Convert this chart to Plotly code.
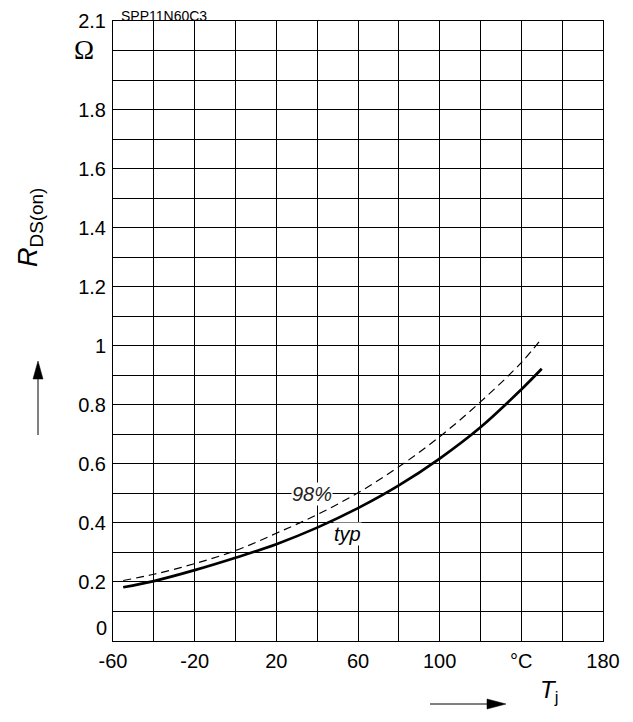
import plotly.graph_objects as go

# Data
tj = [-55, -40, -20, 0, 20, 40, 60, 80, 100, 120, 140, 150]
r_typ = [0.182, 0.203, 0.240, 0.282, 0.328, 0.384, 0.450, 0.527, 0.618, 0.724, 0.852, 0.922]
r_98 = [0.205, 0.226, 0.262, 0.306, 0.365, 0.428, 0.502, 0.590, 0.692, 0.810, 0.943, 1.025]

x_tickvals = [-60, -40, -20, 0, 20, 40, 60, 80, 100, 120, 140, 160, 180]
x_ticktext = ["-60", "", "-20", "", "20", "", "60", "", "100", "", "°C", "", "180"]
y_tickvals = [round(i * 0.1, 1) for i in range(0, 22)]
y_label_map = {0.2: "0.2", 0.4: "0.4", 0.6: "0.6", 0.8: "0.8", 1.0: "1", 1.2: "1.2",
               1.4: "1.4", 1.6: "1.6", 1.8: "1.8", 2.1: "2.1"}
y_ticktext = [y_label_map.get(v, "") for v in y_tickvals]

FONT = "Liberation Sans, Arial, sans-serif"

# page is rendered with an 8px body margin: plot area in page px = x 113..603, y 21..641
def px(xp):
    return (xp - 113) / 490.0

def py(yp):
    return (641 - yp) / 620.0

fig = go.Figure()
fig.add_trace(go.Scatter(x=tj, y=r_98, mode="lines",
                         line=dict(color="black", width=1.2, dash="8px,5px", shape="spline"),
                         showlegend=False, hoverinfo="skip"))
fig.add_trace(go.Scatter(x=tj, y=r_typ, mode="lines",
                         line=dict(color="black", width=2.7, shape="spline"),
                         showlegend=False, hoverinfo="skip"))

fig.update_layout(
    width=614, height=702,
    margin=dict(l=105, r=19, t=13, b=69, autoexpand=False),
    paper_bgcolor="white", plot_bgcolor="white",
    font=dict(family=FONT, size=20, color="black"),
    xaxis=dict(range=[-60, 180], tickvals=x_tickvals, ticktext=x_ticktext, showgrid=True,
               gridcolor="black", gridwidth=1, showline=True, linecolor="black", linewidth=1,
               mirror=True, ticks="", zeroline=False, ticklabelstandoff=2, automargin=False,
               tickfont=dict(size=20, family=FONT)),
    yaxis=dict(range=[0, 2.1], tickvals=y_tickvals, ticktext=y_ticktext, showgrid=True,
               gridcolor="black", gridwidth=1, showline=True, linecolor="black", linewidth=1,
               mirror=True, ticks="", zeroline=False, ticklabelstandoff=2, automargin=False,
               tickfont=dict(size=20, family=FONT)),
)

annotations = [
    dict(text="SPP11N60C3", xref="paper", yref="paper", x=px(119), y=py(16),
         xanchor="left", yanchor="middle", showarrow=False, font=dict(size=14, family=FONT)),
    dict(text="Ω", xref="paper", yref="paper", x=px(84), y=py(50),
         xanchor="center", yanchor="middle", showarrow=False,
         font=dict(size=27, family="Liberation Serif, Times New Roman, serif")),
    dict(text="0", xref="paper", yref="paper", x=px(109), y=py(628),
         xanchor="right", yanchor="middle", showarrow=False, font=dict(size=20, family=FONT)),
    dict(text="<i>R</i><sub>DS(on)</sub>", xref="paper", yref="paper", x=px(30),
         y=py(228), xanchor="center", yanchor="middle", textangle=-90, showarrow=False,
         font=dict(size=27, family=FONT)),
    dict(text="<i>T</i><sub>j</sub>", xref="paper", yref="paper", x=px(549),
         y=py(691), xanchor="center", yanchor="middle", showarrow=False,
         font=dict(size=24, family=FONT)),
    dict(text="<i>98%</i>", x=37.3, y=0.497, xref="x", yref="y", showarrow=False, bgcolor="white",
         font=dict(size=20, family=FONT, color="#222"), borderpad=0),
    dict(text="<i>typ</i>", x=55, y=0.362, xref="x", yref="y", showarrow=False, bgcolor="white",
         font=dict(size=20, family=FONT), borderpad=0),
]

shapes = [
    # vertical arrow next to y title
    dict(type="line", xref="paper", yref="paper", x0=px(38), x1=px(38), y0=py(435), y1=py(376),
         line=dict(color="black", width=1)),
    dict(type="path", xref="paper", yref="paper",
         path=f"M {px(33)} {py(379)} L {px(43)} {py(379)} L {px(38)} {py(361)} Z",
         fillcolor="black", line=dict(color="black", width=0.5)),
    # horizontal arrow next to x title
    dict(type="line", xref="paper", yref="paper", x0=px(430), x1=px(490), y0=py(704), y1=py(704),
         line=dict(color="black", width=1)),
    dict(type="path", xref="paper", yref="paper",
         path=f"M {px(487)} {py(699)} L {px(487)} {py(709)} L {px(506)} {py(704)} Z",
         fillcolor="black", line=dict(color="black", width=0.5)),
]
fig.update_layout(annotations=annotations, shapes=shapes)

fig.write_html("out.html")
